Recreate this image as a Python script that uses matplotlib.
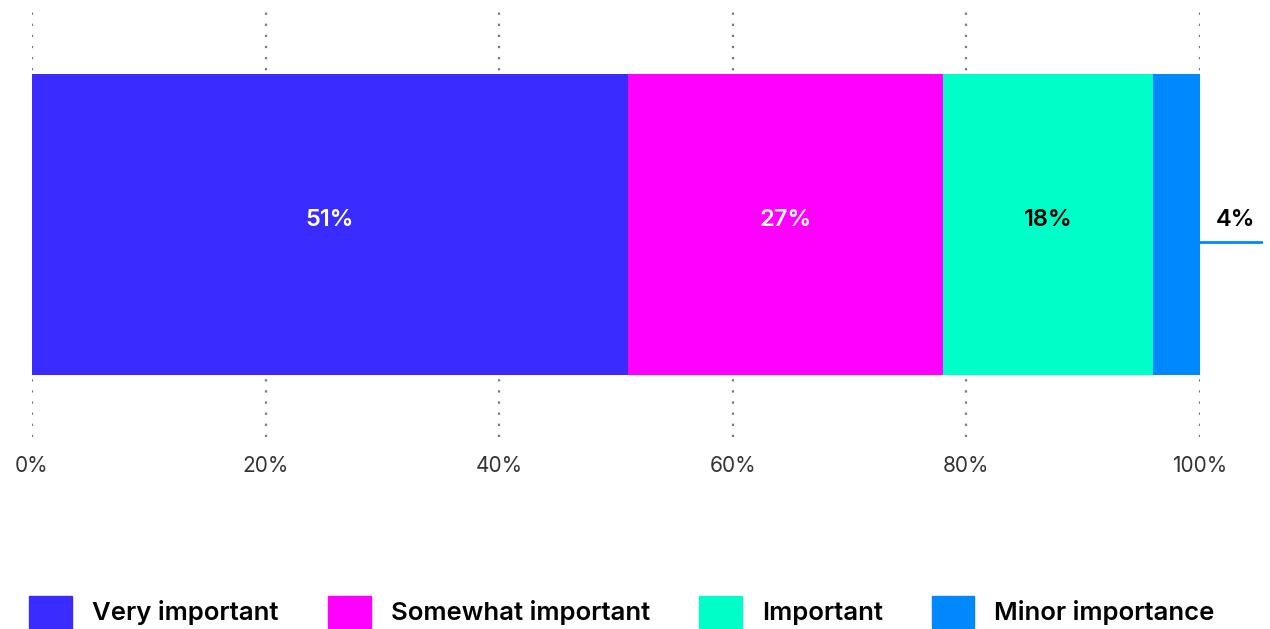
import matplotlib.pyplot as plt
from matplotlib.patches import Patch

categories = ["Very important", "Somewhat important", "Important", "Minor importance"]
values = [51, 27, 18, 4]
colors = ["#3A2BFF", "#FF00FF", "#00FFC8", "#0088FF"]
label_colors = ["white", "white", "black", "black"]
xticks = [0, 20, 40, 60, 80, 100]

plt.rcParams['font.family'] = ['Inter', 'DejaVu Sans']

fig = plt.figure(figsize=(12.7, 6.29), dpi=100)
ax = fig.add_axes([32 / 1270, 1 - 437 / 629, 1168 / 1270, 425 / 629])

left = 0
for cat, val, col, lc in zip(categories, values, colors, label_colors):
    ax.barh(0, val, left=left, height=1.42, color=col, zorder=2)
    if val >= 10:
        ax.text(left + val / 2, 0.02, f"{val}%", ha='center', va='center',
                color=lc, fontsize=17, fontweight='semibold', zorder=3)
    else:
        ax.text(left + val + 3, 0.02, f"{val}%", ha='center', va='center',
                color=lc, fontsize=17, fontweight='semibold', zorder=3)
        ax.plot([left + val, left + val + 5.2], [-0.08, -0.08],
                color=col, lw=2, clip_on=False, zorder=3)
    left += val

ax.set_xlim(0, 100)
ax.set_ylim(-1, 1)
ax.set_xticks(xticks)
ax.set_xticklabels([f"{t}%" for t in xticks], fontsize=15, color="#333333")
ax.set_yticks([])
ax.tick_params(axis='x', length=0, pad=14)
for s in ax.spines.values():
    s.set_visible(False)
ax.grid(axis='x', color="#777777", linestyle=(0, (1, 4)), lw=1.6, zorder=0)

handles = [Patch(color=c, label=l) for c, l in zip(colors, categories)]
fig.legend(handles=handles, loc='lower left', bbox_to_anchor=(0.005, -0.035),
           ncol=4, frameon=False, prop={'size': 18.5, 'weight': 'semibold'},
           handlelength=1.67, handleheight=1.56, handletextpad=0.78,
           columnspacing=1.9)

fig.savefig("out.png", dpi=100)
